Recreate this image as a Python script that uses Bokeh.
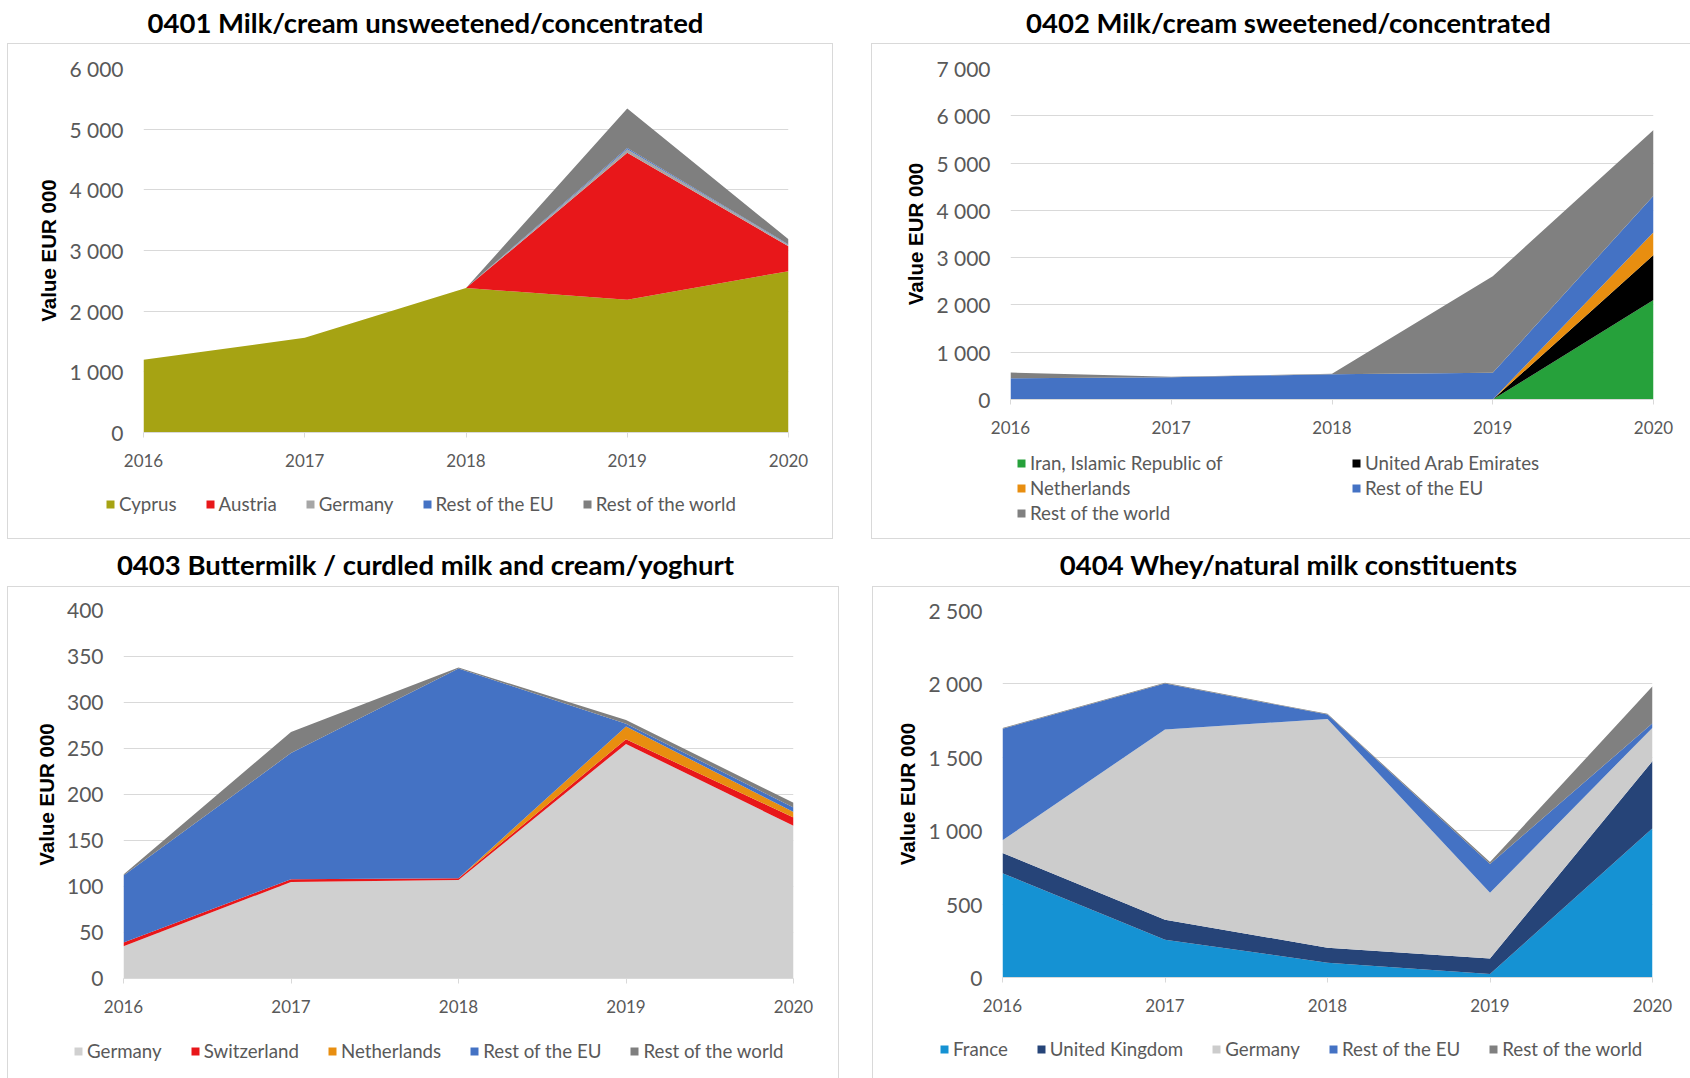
from bokeh.plotting import figure
from bokeh.models import ColumnDataSource, Range1d, FixedTicker, Legend, LegendItem, Label, Spacer
from bokeh.layouts import row, column
from bokeh.embed import file_html
from bokeh.resources import INLINE

# ---- shared axis data -------------------------------------------------------
years = [2016, 2017, 2018, 2019, 2020]
year_labels = ["2016", "2017", "2018", "2019", "2020"]

# ---- 0401 Milk/cream unsweetened/concentrated (value, EUR 000) --------------
title_0401 = "0401 Milk/cream unsweetened/concentrated"
names_0401 = ["Cyprus", "Austria", "Germany", "Rest of the EU", "Rest of the world"]
cyprus_0401 = [1200, 1560, 2380, 2190, 2660]
austria_0401 = [0, 0, 0, 2420, 410]
germany_0401 = [0, 0, 0, 60, 22]
rest_eu_0401 = [0, 0, 0, 20, 8]
rest_world_0401 = [0, 0, 0, 650, 84]
colors_0401 = ["#A6A313", "#E8171A", "#A6A6A6", "#4472C4", "#7F7F7F"]
y_ticks_0401 = [0, 1000, 2000, 3000, 4000, 5000, 6000]
y_labels_0401 = ["0", "1 000", "2 000", "3 000", "4 000", "5 000", "6 000"]

# ---- 0402 Milk/cream sweetened/concentrated ---------------------------------
title_0402 = "0402 Milk/cream sweetened/concentrated"
names_0402 = ["Iran, Islamic Republic of", "United Arab Emirates", "Netherlands",
              "Rest of the EU", "Rest of the world"]
iran_0402 = [0, 0, 0, 0, 2105]
uae_0402 = [0, 0, 0, 0, 952]
netherlands_0402 = [0, 0, 0, 0, 478]
rest_eu_0402 = [450, 470, 535, 565, 776]
rest_world_0402 = [120, 10, 10, 2040, 1390]
colors_0402 = ["#26A13B", "#000000", "#E88E10", "#4472C4", "#808080"]
y_ticks_0402 = [0, 1000, 2000, 3000, 4000, 5000, 6000, 7000]
y_labels_0402 = ["0", "1 000", "2 000", "3 000", "4 000", "5 000", "6 000", "7 000"]

# ---- 0403 Buttermilk / curdled milk and cream/yoghurt -----------------------
title_0403 = "0403 Buttermilk / curdled milk and cream/yoghurt"
names_0403 = ["Germany", "Switzerland", "Netherlands", "Rest of the EU", "Rest of the world"]
germany_0403 = [35, 105, 107, 255, 166]
switzerland_0403 = [4, 3, 2, 5, 9]
netherlands_0403 = [0, 0, 0, 14, 6]
rest_eu_0403 = [73, 137, 228, 3, 5]
rest_world_0403 = [1, 23, 1, 4, 5]
colors_0403 = ["#D0D0D0", "#E8171A", "#E88E10", "#4472C4", "#7F7F7F"]
y_ticks_0403 = [0, 50, 100, 150, 200, 250, 300, 350, 400]
y_labels_0403 = ["0", "50", "100", "150", "200", "250", "300", "350", "400"]

# ---- 0404 Whey/natural milk constituents ------------------------------------
title_0404 = "0404 Whey/natural milk constituents"
names_0404 = ["France", "United Kingdom", "Germany", "Rest of the EU", "Rest of the world"]
france_0404 = [711, 258, 101, 23, 1016]
uk_0404 = [137, 136, 101, 106, 458]
germany_0404 = [87, 1296, 1559, 448, 228]
rest_eu_0404 = [760, 312, 30, 197, 30]
rest_world_0404 = [5, 5, 5, 12, 252]
colors_0404 = ["#1592D3", "#264478", "#CCCCCC", "#4472C4", "#808080"]
y_ticks_0404 = [0, 500, 1000, 1500, 2000, 2500]
y_labels_0404 = ["0", "500", "1 000", "1 500", "2 000", "2 500"]

GRID = "#D9D9D9"
TEXT_GREY = "#595959"
UI_FONT = "Lato"

# box edges drawn as inset shadows on each figure host
TOP_LEFT_RIGHT = f"inset 1px 1px 0 0 {GRID}, inset -1px 0 0 0 {GRID}"
LEFT_RIGHT_BOTTOM = f"inset 1px -1px 0 0 {GRID}, inset -1px 0 0 0 {GRID}"
LEFT_RIGHT = f"inset 1px 0 0 0 {GRID}, inset -1px 0 0 0 {GRID}"
TOP_LEFT = f"inset 1px 1px 0 0 {GRID}"
LEFT_BOTTOM = f"inset 1px -1px 0 0 {GRID}"
LEFT = f"inset 1px 0 0 0 {GRID}"


def bare_figure(width, height):
    f = figure(width=width, height=height, x_range=Range1d(0, 1), y_range=Range1d(0, 1),
               output_backend="svg", toolbar_location=None,
               x_axis_location=None, y_axis_location=None, min_border=0)
    f.frame_align = False
    f.grid.visible = False
    f.outline_line_color = None
    f.border_fill_color = None
    f.background_fill_color = None
    return f


def title_strip(text, width, height, cx, cy):
    t = bare_figure(width, height)
    t.add_layout(Label(x=cx, y=cy, x_units="screen", y_units="screen", text=text,
                       text_align="center", text_baseline="middle",
                       text_font=UI_FONT, text_font_style="bold",
                       text_font_size="27.5px", text_color="black"))
    return t


def stack_source(series):
    data = {"year": years}
    keys = []
    for i, vals in enumerate(series):
        key = f"s{i}"
        data[key] = vals
        keys.append(key)
    return ColumnDataSource(data), keys


def chart(width, height, frame, border, y_max, y_ticks, y_labels, src, keys, colors):
    left, right, top, bottom = frame
    p = figure(width=width, height=height,
               x_range=Range1d(years[0], years[-1]), y_range=Range1d(0, y_max),
               output_backend="svg", toolbar_location=None,
               min_border_left=left, min_border_right=right,
               min_border_top=top, min_border_bottom=bottom)
    p.frame_align = False
    p.outline_line_color = None
    p.border_fill_color = None
    p.background_fill_color = None
    p.styles = {"box-shadow": border}

    p.varea_stack(stackers=keys, x="year", color=colors, source=src)

    xa = p.xaxis[0]
    xa.ticker = FixedTicker(ticks=years)
    xa.major_label_overrides = dict(zip(years, year_labels))
    xa.axis_line_color = GRID
    xa.major_tick_line_color = GRID
    xa.major_tick_out = 5
    xa.major_tick_in = 0
    xa.minor_tick_line_color = None
    xa.major_label_standoff = 16
    xa.major_label_text_font = UI_FONT
    xa.major_label_text_font_size = "17px"
    xa.major_label_text_color = TEXT_GREY

    ya = p.yaxis[0]
    ya.ticker = FixedTicker(ticks=y_ticks)
    ya.major_label_overrides = dict(zip(y_ticks, y_labels))
    ya.axis_line_color = None
    ya.major_tick_line_color = None
    ya.major_tick_out = 0
    ya.major_tick_in = 0
    ya.minor_tick_line_color = None
    ya.major_label_standoff = 20
    ya.major_label_text_font = UI_FONT
    ya.major_label_text_font_size = "21px"
    ya.major_label_text_color = TEXT_GREY
    ya.axis_label = "Value EUR 000"
    ya.axis_label_text_font = "Liberation Sans"
    ya.axis_label_text_font_style = "bold"
    ya.axis_label_text_font_size = "20.5px"
    ya.axis_label_text_color = "black"
    ya.axis_label_standoff = 6

    p.xgrid.visible = False
    p.ygrid.grid_line_color = GRID
    p.ygrid.grid_line_width = 1
    return p


def legend_strip(width, height, border, names, colors, src, keys, x0, y0, spacing=28,
                 ncols=None, label_width=20):
    # The stacked areas are repeated here outside the visible range, so the
    # legend swatches take their fills from the same renderer setup.
    lf = bare_figure(width, height)
    lf.styles = {"box-shadow": border}
    rends = lf.varea_stack(stackers=keys, x="year", color=colors, source=src)
    items = [LegendItem(label=n, renderers=[r]) for n, r in zip(names, rends)]
    leg = Legend(items=items, location=(x0, y0), orientation="horizontal",
                 glyph_width=10, glyph_height=10, label_standoff=4, spacing=spacing,
                 padding=0, margin=0, border_line_color=None, background_fill_color=None,
                 label_text_font=UI_FONT, label_text_font_size="18.7px",
                 label_text_color=TEXT_GREY, label_height=20, label_width=label_width)
    if ncols:
        leg.ncols = ncols
    lf.add_layout(leg, "center")
    return lf


src1, keys1 = stack_source([cyprus_0401, austria_0401, germany_0401, rest_eu_0401,
                            rest_world_0401])
src2, keys2 = stack_source([iran_0402, uae_0402, netherlands_0402, rest_eu_0402,
                            rest_world_0402])
src3, keys3 = stack_source([germany_0403, switzerland_0403, netherlands_0403, rest_eu_0403,
                            rest_world_0403])
src4, keys4 = stack_source([france_0404, uk_0404, germany_0404, rest_eu_0404,
                            rest_world_0404])

p1 = chart(826, 434, (136, 45, 25, 45), TOP_LEFT_RIGHT, 6000, y_ticks_0401, y_labels_0401,
           src1, keys1, colors_0401)
l1 = legend_strip(826, 62, LEFT_RIGHT_BOTTOM, names_0401, colors_0401, src1, keys1, 98, 24)

p2 = chart(819, 401, (139, 37, 25, 45), TOP_LEFT, 7000, y_ticks_0402, y_labels_0402,
           src2, keys2, colors_0402)
l2 = legend_strip(819, 95, LEFT_BOTTOM, names_0402, colors_0402, src2, keys2, 145, 15,
                  spacing=3, ncols=2, label_width=318)

p3 = chart(832, 437, (116, 46, 24, 45), TOP_LEFT_RIGHT, 400, y_ticks_0403, y_labels_0403,
           src3, keys3, colors_0403)
l3 = legend_strip(832, 55, LEFT_RIGHT, names_0403, colors_0403, src3, keys3, 66, 16)

p4 = chart(818, 436, (130, 38, 24, 45), TOP_LEFT, 2500, y_ticks_0404, y_labels_0404,
           src4, keys4, colors_0404)
l4 = legend_strip(818, 56, LEFT, names_0404, colors_0404, src4, keys4, 67, 18)

t1 = title_strip(title_0401, 826, 43, 418, 21.5)
t2 = title_strip(title_0402, 819, 43, 417, 21.5)
t3 = title_strip(title_0403, 832, 47, 418, 22)
t4 = title_strip(title_0404, 818, 47, 416, 22)

layout = column(
    row(Spacer(width=7, height=43), t1, Spacer(width=38, height=43), t2),
    row(Spacer(width=7, height=496), column(p1, l1), Spacer(width=38, height=496), column(p2, l2)),
    row(Spacer(width=7, height=47), t3, Spacer(width=33, height=47), t4),
    row(Spacer(width=7, height=492), column(p3, l3), Spacer(width=33, height=492), column(p4, l4)),
)

open("out.html", "w").write(file_html(layout, INLINE))
